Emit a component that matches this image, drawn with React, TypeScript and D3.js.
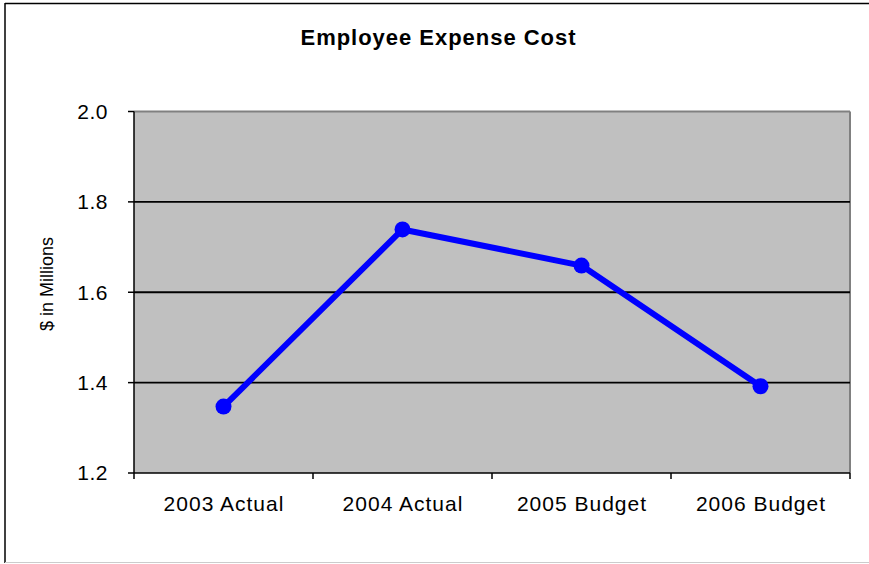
import React from "react";
import * as d3 from "d3";

const categories = ["2003 Actual", "2004 Actual", "2005 Budget", "2006 Budget"];
const values = [1.347, 1.739, 1.659, 1.392];
const yTicks = [1.2, 1.4, 1.6, 1.8, 2.0];
const gridValues = [1.4, 1.6, 1.8];
const title = "Employee Expense Cost";
const yLabel = "$ in Millions";

export default function App() {
  const W = 869, H = 564;
  const left = 134, right = 850, top = 111.5, bottom = 473;
  const x = d3.scaleBand<string>().domain(categories).range([left, right]);
  const y = d3.scaleLinear().domain([1.2, 2.0]).range([bottom, top]);
  const pts = categories.map((c, i) => [x(c)! + x.bandwidth() / 2, y(values[i])] as [number, number]);
  const line = d3.line()(pts) || "";
  const boundaries = [left, ...categories.map((c) => x(c)! + x.bandwidth())];
  const font = "'Liberation Sans', Arial, sans-serif";

  return (
    <svg width={W} height={H} style={{ position: "absolute", left: 0, top: 0, background: "#fff" }}>
      {/* outer frame */}
      <line x1={5} y1={3} x2={5} y2={563} stroke="#000" strokeWidth={1.5} />
      <line x1={5} y1={3.5} x2={869} y2={3.5} stroke="#000" strokeWidth={1.5} />
      <line x1={5} y1={562.5} x2={869} y2={562.5} stroke="#cccccc" strokeWidth={1} />

      <text x={438} y={45} textAnchor="middle" fontFamily={font} fontWeight="bold" fontSize={22}
        textLength={275} lengthAdjust="spacing">{title}</text>

      {/* plot area */}
      <rect x={left} y={top} width={right - left} height={bottom - top} fill="#c0c0c0" />
      <line x1={left} y1={top} x2={right} y2={top} stroke="#808080" strokeWidth={2} />
      <line x1={right} y1={top} x2={right} y2={bottom} stroke="#808080" strokeWidth={2} />
      {gridValues.map((v) => (
        <line key={v} x1={left} x2={right} y1={y(v)} y2={y(v)} stroke="#000" strokeWidth={1.8} />
      ))}

      {/* axes */}
      <line x1={left} y1={top} x2={left} y2={bottom} stroke="#000" strokeWidth={1.5} />
      <line x1={left} y1={bottom} x2={right} y2={bottom} stroke="#000" strokeWidth={1.5} />
      {yTicks.map((v) => (
        <g key={v}>
          <line x1={left - 6} x2={left} y1={y(v)} y2={y(v)} stroke="#000" strokeWidth={1.5} />
          <text x={108} y={y(v)} dy="0.35em" textAnchor="end" fontFamily={font} fontSize={21} letterSpacing={0.5}>
            {d3.format(".1f")(v)}
          </text>
        </g>
      ))}
      {boundaries.map((b, i) => (
        <line key={i} x1={b} x2={b} y1={bottom} y2={bottom + 6} stroke="#000" strokeWidth={1.5} />
      ))}
      {categories.map((c) => (
        <text key={c} x={x(c)! + x.bandwidth() / 2 + 0.5} y={510.5} textAnchor="middle" fontFamily={font} fontSize={21} letterSpacing={1}>
          {c}
        </text>
      ))}

      <text transform={`translate(53,284) rotate(-90)`} textAnchor="middle" fontFamily={font} fontSize={18}>
        {yLabel}
      </text>

      {/* series */}
      <path d={line} fill="none" stroke="#0000ff" strokeWidth={6} strokeLinejoin="round" />
      {pts.map((p, i) => (
        <circle key={i} cx={p[0]} cy={p[1]} r={8} fill="#0000ff" />
      ))}
    </svg>
  );
}
